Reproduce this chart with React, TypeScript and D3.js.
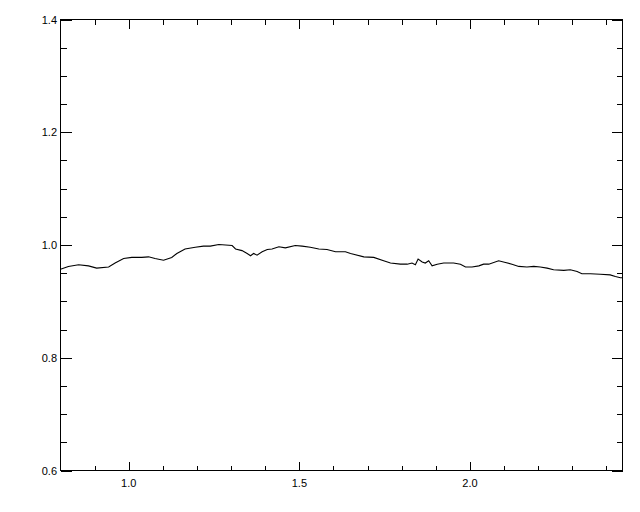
import React from "react";
import * as d3 from "d3";

const xs: number[] = [0.800,0.823,0.853,0.882,0.906,0.941,0.960,0.985,1.009,1.038,1.058,1.077,1.102,1.126,1.141,1.165,1.195,1.219,1.239,1.264,1.303,1.313,1.332,1.347,1.357,1.366,1.376,1.391,1.406,1.420,1.440,1.459,1.488,1.508,1.532,1.557,1.581,1.606,1.635,1.650,1.689,1.718,1.747,1.767,1.796,1.816,1.830,1.840,1.848,1.860,1.869,1.879,1.889,1.904,1.923,1.952,1.972,1.987,2.006,2.026,2.040,2.055,2.084,2.104,2.123,2.143,2.167,2.187,2.206,2.226,2.245,2.275,2.294,2.314,2.328,2.353,2.382,2.411,2.426,2.441,2.447];
const ys: number[] = [0.957,0.962,0.965,0.963,0.959,0.961,0.968,0.976,0.978,0.978,0.979,0.976,0.973,0.978,0.985,0.993,0.996,0.998,0.998,1.001,0.999,0.993,0.990,0.985,0.981,0.985,0.982,0.988,0.992,0.993,0.997,0.995,0.999,0.998,0.996,0.993,0.992,0.988,0.988,0.985,0.979,0.978,0.972,0.968,0.966,0.966,0.968,0.965,0.975,0.970,0.968,0.972,0.963,0.966,0.968,0.968,0.966,0.961,0.961,0.963,0.966,0.966,0.972,0.969,0.966,0.962,0.961,0.962,0.961,0.959,0.956,0.955,0.956,0.953,0.949,0.949,0.948,0.947,0.944,0.942,0.942];

const xMajor: number[] = [1.0, 1.5, 2.0];
const xMinor: number[] = [0.9, 1.1, 1.2, 1.3, 1.4, 1.6, 1.7, 1.8, 1.9, 2.1, 2.2, 2.3, 2.4];
const xLabels: string[] = ["1.0", "1.5", "2.0"];
const yMajor: number[] = [0.6, 0.8, 1.0, 1.2, 1.4];
const yMinor: number[] = [0.65, 0.7, 0.75, 0.85, 0.9, 0.95, 1.05, 1.1, 1.15, 1.25, 1.3, 1.35];
const yLabels: string[] = ["0.6", "0.8", "1.0", "1.2", "1.4"];

export default function App() {
  const L = 60.5, R = 622.5, T = 19.5, B = 470.5;
  const x = d3.scaleLinear().domain([0.8, 2.447]).range([L, R]);
  const y = d3.scaleLinear().domain([0.6, 1.4]).range([B, T]);
  const pts: [number, number][] = xs.map((v, i) => [v, ys[i]]);
  const line = d3.line<[number, number]>().x(d => x(d[0])).y(d => y(d[1]));
  const font = "'Liberation Sans', Arial, sans-serif";
  return (
    <svg width={640} height={512} style={{ position: "absolute", left: 0, top: 0, background: "#fff" }}>
      <rect x={0} y={0} width={640} height={512} fill="#fff" />
      <g stroke="#000" strokeWidth={1} shapeRendering="crispEdges">
        <rect x={L} y={T} width={R - L} height={B - T} fill="none" />
        {xMajor.map((v, i) => (
          <g key={"xM" + i}>
            <line x1={Math.round(x(v)) + 0.5} x2={Math.round(x(v)) + 0.5} y1={B} y2={B - 9} />
            <line x1={Math.round(x(v)) + 0.5} x2={Math.round(x(v)) + 0.5} y1={T} y2={T + 9} />
          </g>
        ))}
        {xMinor.map((v, i) => (
          <g key={"xm" + i}>
            <line x1={Math.round(x(v)) + 0.5} x2={Math.round(x(v)) + 0.5} y1={B} y2={B - 5} />
            <line x1={Math.round(x(v)) + 0.5} x2={Math.round(x(v)) + 0.5} y1={T} y2={T + 5} />
          </g>
        ))}
        {yMajor.map((v, i) => (
          <g key={"yM" + i}>
            <line x1={L} x2={L + 11} y1={Math.round(y(v)) + 0.5} y2={Math.round(y(v)) + 0.5} />
            <line x1={R} x2={R - 11} y1={Math.round(y(v)) + 0.5} y2={Math.round(y(v)) + 0.5} />
          </g>
        ))}
        {yMinor.map((v, i) => (
          <g key={"ym" + i}>
            <line x1={L} x2={L + 6} y1={Math.round(y(v)) + 0.5} y2={Math.round(y(v)) + 0.5} />
            <line x1={R} x2={R - 6} y1={Math.round(y(v)) + 0.5} y2={Math.round(y(v)) + 0.5} />
          </g>
        ))}
      </g>
      <path d={line(pts) || ""} fill="none" stroke="#000" strokeWidth={1.1} />
      <g fontFamily={font} fontSize={11} fill="#000">
        {xMajor.map((v, i) => (
          <text key={"xl" + i} x={x(v)} y={487} textAnchor="middle">{xLabels[i]}</text>
        ))}
        {yMajor.map((v, i) => (
          <text key={"yl" + i} x={57} y={y(v) + 4} textAnchor="end">{yLabels[i]}</text>
        ))}
      </g>
    </svg>
  );
}
